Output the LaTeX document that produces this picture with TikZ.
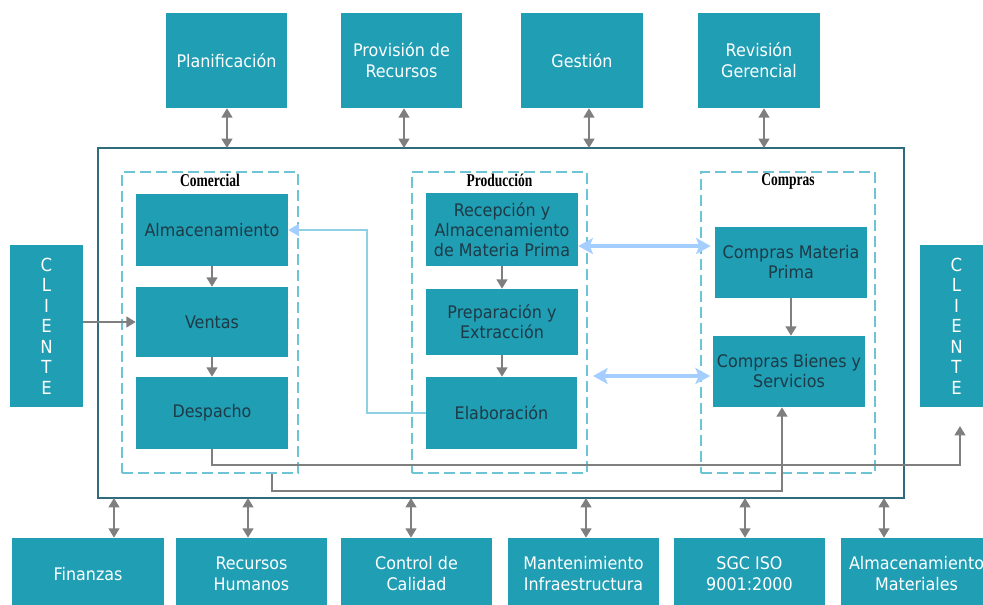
\documentclass[tikz,border=0pt]{standalone}
\usepackage{fontspec}
\setmainfont{DejaVu Sans}
\newfontfamily\boxfont{DejaVu Sans}[FakeStretch=0.92]
\newfontfamily\grpfont{Liberation Serif}[FakeStretch=0.75]
\usetikzlibrary{arrows.meta}
\definecolor{boxteal}{HTML}{1F9EB4}
\definecolor{boxtext}{HTML}{1E3A46}
\definecolor{frameteal}{HTML}{2E6C7C}
\definecolor{dashteal}{HTML}{6CC4D4}
\definecolor{arrgray}{HTML}{7F7F7F}
\definecolor{lcyan}{HTML}{8ED1E3}
\definecolor{lblue}{HTML}{A3CEFF}
\tikzset{
  procbox/.style={draw=none, fill=boxteal, align=center, inner sep=1pt,
    text=boxtext, font=\boxfont\fontsize{13}{15}\selectfont},
  outbox/.style={procbox, text=white, font=\boxfont\fontsize{13}{15.75}\selectfont},
  clibox/.style={procbox, text=white, font=\boxfont\fontsize{13.5}{15.4}\selectfont,
    minimum width=54.75pt, minimum height=121.5pt},
  framebox/.style={draw=frameteal, line width=1.8pt, inner sep=0pt,
    minimum width=604.5pt, minimum height=262.5pt},
  grpbox/.style={draw=dashteal, line width=1.5pt, dash pattern=on 8pt off 4pt,
    inner sep=0pt, minimum height=225.75pt},
  grplabel/.style={anchor=north, inner sep=0pt, text=black,
    font=\grpfont\bfseries\fontsize{13.5}{13.5}\selectfont},
  garr/.style={draw=arrgray, line width=1.6pt, -{Triangle[length=7pt,width=8pt]}},
  darr/.style={draw=arrgray, line width=1.6pt,
    {Triangle[length=7pt,width=8pt]}-{Triangle[length=7pt,width=8pt]}},
  cyarr/.style={draw=lcyan, line width=1.5pt, -{Triangle[length=8pt,width=9pt,color=lblue]}},
  dblarr/.style={draw=lblue, line width=2.4pt,
    {Stealth[length=11pt,width=12pt,inset=2.5pt]}-{Stealth[length=11pt,width=12pt,inset=2.5pt]}},
}
\begin{document}
\begin{tikzpicture}[x=0.75pt,y=-0.75pt]
\useasboundingbox (0,0) rectangle (983,605);
\clip (0,0) rectangle (983,605);

% main frame and groups
\node[framebox] (frame) at (501,323) {};
\node[grpbox, minimum width=132pt] (gcom) at (210,322.5) {};
\node[grpbox, minimum width=131.25pt] (gpro) at (499.5,322.5) {};
\node[grpbox, minimum width=130.5pt] (gcmp) at (788,322.5) {};
\node[grplabel] (lcom) at ([yshift=-2pt]gcom.north) {Comercial};
\node[grplabel] (lpro) at ([yshift=-2pt]gpro.north) {Producción};
\node[grplabel] (lcmp) at ([yshift=-2pt]gcmp.north) {Compras};

% inner process boxes
\node[procbox, minimum width=114pt, minimum height=54pt] (alm) at (212,230) {Almacenamiento};
\node[procbox, minimum width=114pt, minimum height=52.5pt] (ven) at (212,322) {Ventas};
\node[procbox, minimum width=114pt, minimum height=54pt] (des) at (212,413) {Despacho};
\node[procbox, minimum width=114pt, minimum height=54.75pt] (rec) at (502,229.5) {Recepción y\\Almacenamiento\\de Materia Prima};
\node[procbox, minimum width=114pt, minimum height=49.5pt] (pre) at (502,322) {Preparación y\\Extracción};
\node[procbox, minimum width=113.25pt, minimum height=54pt] (ela) at (501.5,413) {Elaboración};
\node[procbox, minimum width=114pt, minimum height=53.25pt] (cmp) at (791,262.5) {Compras Materia\\Prima};
\node[procbox, minimum width=114pt, minimum height=53.25pt] (cbs) at (789,371.5) {Compras Bienes y\\Servicios};

% top boxes
\node[outbox, minimum width=90.75pt, minimum height=71.25pt] (plan) at (226.5,60.5) {Planificación};
\node[outbox, minimum width=90.75pt, minimum height=71.25pt] (prov) at (401.5,60.5) {Provisión de\\Recursos};
\node[outbox, minimum width=91.5pt, minimum height=71.25pt] (gest) at (582,60.5) {Gestión};
\node[outbox, minimum width=91.5pt, minimum height=71.25pt] (rev) at (759,60.5) {Revisión\\Gerencial};

% clients
\node[clibox] (cl1) at (46.5,326) {C\\L\\I\\E\\N\\T\\E};
\node[clibox] (cl2) at (956.5,326) {C\\L\\I\\E\\N\\T\\E};

% bottom boxes
\node[outbox, minimum width=114pt, minimum height=54pt] (fin) at (88,574) {Finanzas};
\node[outbox, minimum width=113.25pt, minimum height=54pt] (rh) at (251.5,574) {Recursos\\Humanos};
\node[outbox, minimum width=113.25pt, minimum height=54pt] (cc) at (416.5,574) {Control de\\Calidad};
\node[outbox, minimum width=113.25pt, minimum height=54pt] (mant) at (583.5,574) {Mantenimiento\\Infraestructura};
\node[outbox, minimum width=113.25pt, minimum height=54pt] (sgc) at (749.5,574) {SGC ISO\\9001:2000};
\node[outbox, minimum width=113.25pt, minimum height=54pt] (almm) at (916.5,574) {Almacenamiento\\Materiales};

% coordinates on frame
\coordinate (ta1) at (227,148);
\coordinate (ta2) at (404,148);
\coordinate (ta3) at (589,148);
\coordinate (ta4) at (764,148);
\coordinate (ba1) at (114,498);
\coordinate (ba2) at (248,498);
\coordinate (ba3) at (411,498);
\coordinate (ba4) at (586,498);
\coordinate (ba5) at (745,498);
\coordinate (ba6) at (884,498);

% top / bottom links
\draw[darr] (ta1 |- plan.south) -- (ta1);
\draw[darr] (ta2 |- prov.south) -- (ta2);
\draw[darr] (ta3 |- gest.south) -- (ta3);
\draw[darr] (ta4 |- rev.south) -- (ta4);
\draw[darr] (ba1) -- (ba1 |- fin.north);
\draw[darr] (ba2) -- (ba2 |- rh.north);
\draw[darr] (ba3) -- (ba3 |- cc.north);
\draw[darr] (ba4) -- (ba4 |- mant.north);
\draw[darr] (ba5) -- (ba5 |- sgc.north);
\draw[darr] (ba6) -- (ba6 |- almm.north);

% internal flow
\draw[garr] (cl1.east |- ven.west) -- (ven.west);
\draw[garr] (alm.south) -- (ven.north);
\draw[garr] (ven.south) -- (des.north);
\draw[garr] (rec.south) -- (rec.south |- pre.north);
\draw[garr] (pre.south) -- (pre.south |- ela.north);
\draw[garr] (cmp.south) -- (cmp.south |- cbs.north);

% light blue links
\draw[cyarr] (ela.west) -- ++(-59,0) |- (alm.east);
\coordinate (da1) at ([yshift=-12.4pt]rec.east);
\draw[dblarr] (da1) -- ([xshift=-3pt]da1 -| cmp.west);
\coordinate (da2) at (593,376);
\draw[dblarr] (da2) -- ([xshift=-2pt]da2 -| cbs.west);

% long gray links
\coordinate (c2in) at (960,426);
\draw[garr] (des.south) -- ++(0,16) -| (c2in);
\coordinate (g1) at ([xshift=46.5pt]gcom.south);
\draw[garr] (g1) -- ++(0,17) -| ([xshift=-5.25pt]cbs.south);
\end{tikzpicture}
\end{document}
